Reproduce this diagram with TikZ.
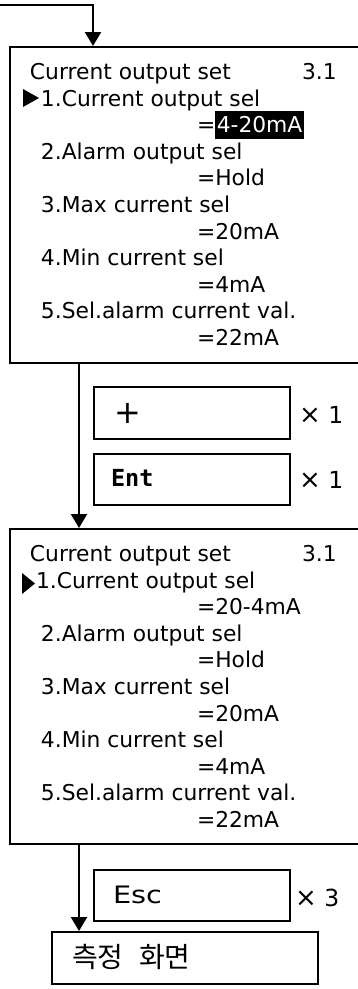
\documentclass[tikz,border=0pt]{standalone}
\usepackage{fontspec}
\setmainfont{DejaVu Sans}
\newfontfamily\monofont{DejaVu Sans Mono}
\newfontfamily\krfont[WordSpace=2.5]{Noto Sans CJK KR}
\usetikzlibrary{arrows.meta}
\newcommand\bigtimes{{\fontsize{26}{26}\selectfont ×}}
\begin{document}
\begin{tikzpicture}[x=1pt,y=-1pt,
  scr/.style={draw,line width=1.5pt,inner sep=0,anchor=north west,minimum width=380pt},
  btn/.style={draw,line width=1.5pt,inner sep=0,anchor=north west,minimum width=196pt,minimum height=51pt},
  txt/.style={inner sep=0,outer sep=0,anchor=base west,font=\fontsize{21.8}{26}\selectfont},
  lbl/.style={inner sep=0,outer sep=0,anchor=west},
  cnt/.style={inner sep=0,outer sep=0,anchor=base west,font=\fontsize{23.5}{24}\selectfont},
  conn/.style={line width=2.3pt,-{Triangle[width=16pt,length=14pt]}},
  cursor/.style={fill=black}
  ]
\useasboundingbox (0,0) rectangle (358,989);
\clip (0,0) rectangle (358,989);
% screen 1
\node[scr,minimum height=316pt] (box1) at (9,46) {};
\node[txt] (h1) at (30,79.5) {Current output set};
\node[txt] (v1) at (302,79.5) {3.1};
\fill[cursor] (23,89) -- (23,107) -- (39,98) -- cycle;
\node[txt] (a1) at (41,106.1) {1.Current output sel};
\node[txt] (e1) at (197,132.7) {=};
\node[txt,fill=black,text=white,inner xsep=1.5pt,inner ysep=5.5pt] (hl) at (e1.base east) {4-20mA};
\node[txt] (a2) at (41,159.3) {2.Alarm output sel};
\node[txt] (e2) at (197,185.9) {=Hold};
\node[txt] (a3) at (41,212.5) {3.Max current sel};
\node[txt] (e3) at (197,239.1) {=20mA};
\node[txt] (a4) at (41,265.7) {4.Min current sel};
\node[txt] (e4) at (197,292.3) {=4mA};
\node[txt] (a5) at (41,318.9) {5.Sel.alarm current val.};
\node[txt] (e5) at (197,345.5) {=22mA};
% buttons
\node[btn,minimum height=52pt] (plus) at (93,386) {};
\node[lbl,font=\fontsize{32}{32}\selectfont] (plustxt) at (114,413) {+};
\node[cnt] (n1) at (299,423) {\bigtimes\ 1};
\node[btn] (ent) at (93,453) {};
\node[lbl,font=\monofont\bfseries\fontsize{23.5}{24}\selectfont] (enttxt) at (111,478) {Ent};
\node[cnt] (n2) at (299,488) {\bigtimes\ 1};
% screen 2
\node[scr,minimum height=315pt] (box2) at (9,528) {};
\node[txt] (h2) at (30,561.5) {Current output set};
\node[txt] (v2) at (302,561.5) {3.1};
\fill[cursor] (22,573) -- (22,594) -- (35,583.5) -- cycle;
\node[txt] (c1) at (36,588.1) {1.Current output sel};
\node[txt] (f1) at (197,614.7) {=20-4mA};
\node[txt] (c2) at (41,641.3) {2.Alarm output sel};
\node[txt] (f2) at (197,667.9) {=Hold};
\node[txt] (c3) at (41,694.5) {3.Max current sel};
\node[txt] (f3) at (197,721.1) {=20mA};
\node[txt] (c4) at (41,747.7) {4.Min current sel};
\node[txt] (f4) at (197,774.3) {=4mA};
\node[txt] (c5) at (41,800.9) {5.Sel.alarm current val.};
\node[txt] (f5) at (197,827.5) {=22mA};
% esc
\node[btn] (esc) at (93,869) {};
\node[lbl,font=\fontsize{24}{24}\selectfont\addfontfeature{FakeStretch=1.2}] (esctxt) at (113,895) {Esc};
\node[cnt] (n3) at (295,906) {\bigtimes\ 3};
% measurement screen
\node[btn,minimum width=266pt,minimum height=52pt] (meas) at (51,931) {};
\node[lbl,font=\krfont\fontsize{28}{28}\selectfont] (meastxt) at (72,957) {측정 화면};
% connectors
\coordinate (start) at (0,5);
\coordinate (in1) at (93,46);
\coordinate (out1) at (79,362);
\coordinate (in2) at (79,528);
\coordinate (out2) at (79,843);
\coordinate (in3) at (79,931);
\draw[conn] (start) -| (in1);
\draw[conn] (out1) -- (in2);
\draw[conn] (out2) -- (in3);
\end{tikzpicture}
\end{document}
